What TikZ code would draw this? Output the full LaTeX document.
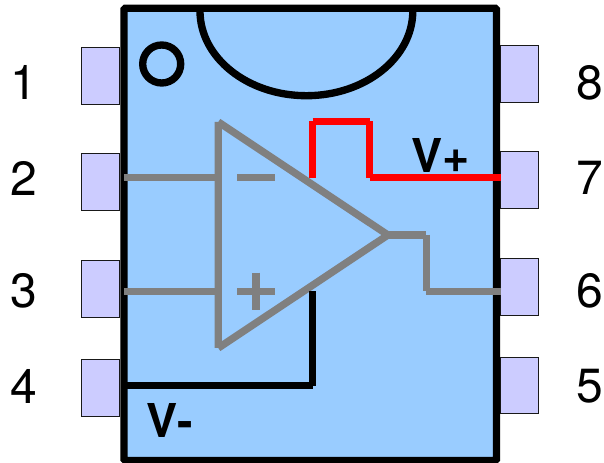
\documentclass[tikz,border=0pt]{standalone}
\usepackage{fontspec}
\setmainfont{TeX Gyre Heros}
\usepackage{tikz}
\definecolor{bodyblue}{HTML}{99CCFF}
\definecolor{pinblue}{HTML}{CCCCFF}
\definecolor{wiregray}{HTML}{808080}

\begin{document}
\begin{tikzpicture}[x=0.75pt, y=-0.75pt,
    pin/.style={rectangle, draw=black!90, fill=pinblue, line width=0.6pt, minimum width=28.5pt, minimum height=42.6pt, inner sep=0pt},
    pinnum/.style={inner sep=0pt, font=\fontsize{36}{40}\selectfont},
    supply/.style={inner sep=0pt, anchor=base west, font=\fontsize{35}{40}\selectfont\bfseries},
    wire/.style={draw=wiregray, line width=5.5pt},
    outline/.style={draw=black, line width=5.5pt}]
            \useasboundingbox (0, 0) rectangle (604, 463);

            \node (pin1) [pin] at (100.7, 76) {};
            \node (pin2) [pin] at (100.2, 182.3) {};
            \node (pin3) [pin] at (100.7, 288.8) {};
            \node (pin4) [pin] at (100.2, 387.8) {};
            \node (pin8) [pin] at (519.3, 73.7) {};
            \node (pin7) [pin] at (518.9, 180) {};
            \node (pin6) [pin] at (519.3, 286.7) {};
            \node (pin5) [pin] at (518.9, 385.5) {};

            \node (num1) [pinnum] at (24, 82.5) {1};
            \node (num2) [pinnum] at (24, 178) {2};
            \node (num3) [pinnum] at (24, 291) {3};
            \node (num4) [pinnum] at (24, 386.5) {4};
            \node (num8) [pinnum] at (590, 82.5) {8};
            \node (num7) [pinnum] at (590, 178) {7};
            \node (num6) [pinnum] at (590, 291) {6};
            \node (num5) [pinnum] at (590, 386.5) {5};

            % package
            \draw [outline, fill=bodyblue, rounded corners=1pt] (124, 8.3) rectangle (496.5, 460.5);
            \draw [outline] (200, 11) arc [start angle=180, end angle=0, x radius=106.4, y radius=84.7];
            \node (dot) [circle, outline, minimum width=28.5pt, inner sep=0pt] at (161.7, 64) {};

            \coordinate (tritop) at (218.3, 122);
            \coordinate (tribot) at (218.3, 348);
            \coordinate (apex) at (388, 235);
            \coordinate (in2) at (124, 177.7);
            \coordinate (in3) at (124, 291.3);
            \coordinate (tri2) at (218.3, 177.7);
            \coordinate (tri3) at (218.3, 291.3);
            \coordinate (out1) at (426.3, 235);
            \coordinate (out2) at (426.3, 291.3);
            \coordinate (out3) at (501.3, 291.3);

            % op amp
            \draw [wire] (tritop) -- (tribot) (tritop) -- (apex) (tribot) -- (apex);
            \draw [wire] (in2) -- (tri2);
            \draw [wire] (in3) -- (tri3);
            \draw [wire] (apex) -- (out1) (out1) -- (out2) (out2) -- (out3);

            \coordinate (minusl) at (237, 177.7);
            \coordinate (minusr) at (275, 177.7);
            \coordinate (plusl) at (237, 291.3);
            \coordinate (plusr) at (275, 291.3);
            \coordinate (plust) at (256, 272.7);
            \coordinate (plusb) at (256, 310);
            \draw [wire] (minusl) -- (minusr);
            \draw [wire] (plusl) -- (plusr) (plust) -- (plusb);

            % supplies
            \coordinate (vp1) at (312.7, 177.7);
            \coordinate (vp2) at (312.7, 121.3);
            \coordinate (vp3) at (369.7, 121.3);
            \coordinate (vp4) at (369.7, 177.7);
            \coordinate (vp5) at (501.3, 177.7);
            \draw [draw=red, line width=5.5pt] (vp1) -- (vp2) (vp2) -- (vp3) (vp3) -- (vp4) (vp4) -- (vp5);

            \coordinate (vm1) at (312.7, 291.3);
            \coordinate (vm2) at (312.7, 385.7);
            \coordinate (vm3) at (124, 385.7);
            \draw [outline] (vm1) -- (vm2) (vm2) -- (vm3);

            \node (vplus) [supply] at (411.3, 172.7) {V+};
            \node (vminus) [supply] at (146.7, 437.7) {V-};
\end{tikzpicture}
\end{document}
